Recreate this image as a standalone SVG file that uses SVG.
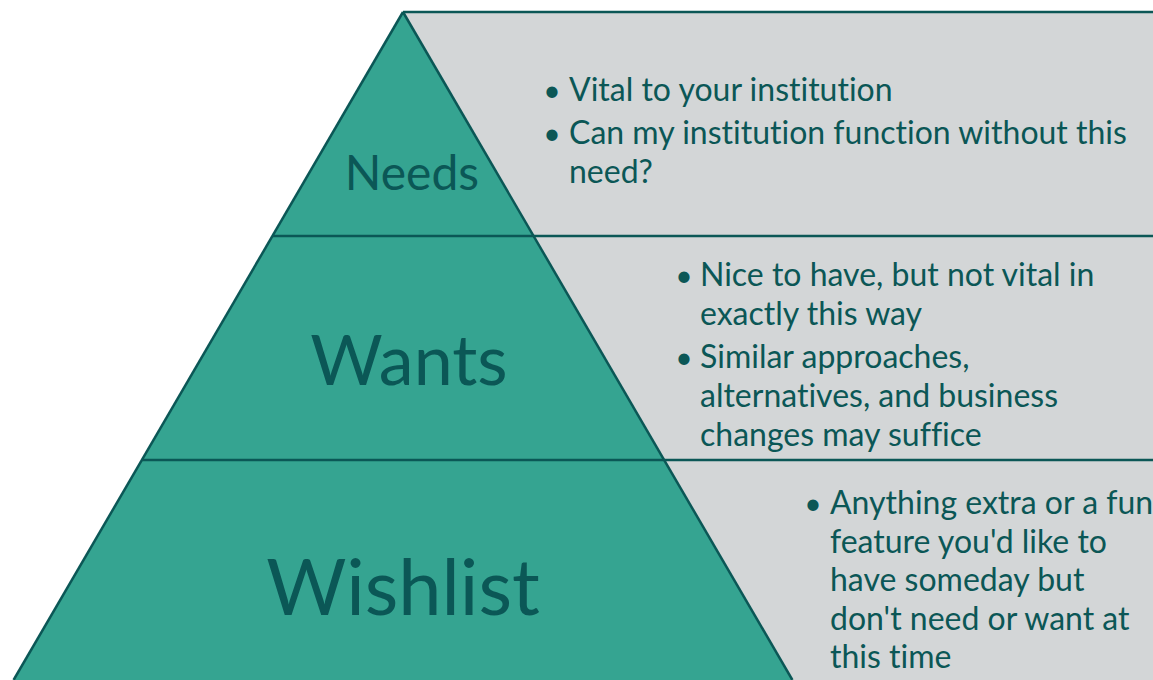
<svg xmlns="http://www.w3.org/2000/svg" width="1153" height="680" viewBox="0 0 1153 680">
  <style>
    .tier { fill: #35A491; }
    .panel { fill: #D3D6D7; }
    .edge { fill: none; stroke: #0B5756; stroke-width: 2.5; }
    text { font-family: Lato, "Open Sans", sans-serif; fill: #0B5756; font-variant-ligatures: none; font-feature-settings: "liga" 0, "clig" 0; }
    .label { text-anchor: middle; }
    .item { font-size: 32px; }
    .dot { font-size: 30px; text-anchor: middle; }
  </style>
  <rect width="1153" height="680" fill="#FFFFFF"/>

  <!-- grey description band behind the right side of the pyramid -->
  <polygon class="panel" points="403,12 1153,12 1153,680 792.4,680"/>

  <!-- top tier -->
  <g id="needs">
    <polygon class="tier" points="403,12 533.6,236 272.4,236"/>
    <text class="label" x="412" y="190" font-size="48">Needs</text>
    <text class="dot" x="552" y="101">•</text>
    <text class="item" x="569" y="101">Vital to your institution</text>
    <text class="dot" x="552" y="144">•</text>
    <text class="item" x="569" y="144">Can my institution function without this</text>
    <text class="item" x="569" y="183">need?</text>
  </g>

  <!-- middle tier -->
  <g id="wants">
    <polygon class="tier" points="272.4,236 533.6,236 664.2,460 141.8,460"/>
    <text class="label" x="409" y="385" font-size="70">Wants</text>
    <text class="dot" x="684" y="286">•</text>
    <text class="item" x="700" y="286">Nice to have, but not vital in</text>
    <text class="item" x="700" y="325">exactly this way</text>
    <text class="dot" x="684" y="368">•</text>
    <text class="item" x="700" y="368">Similar approaches,</text>
    <text class="item" x="700" y="407">alternatives, and business</text>
    <text class="item" x="700" y="446">changes may suffice</text>
  </g>

  <!-- bottom tier -->
  <g id="wishlist">
    <polygon class="tier" points="141.8,460 664.2,460 792.4,680 13.6,680"/>
    <text class="label" x="403" y="615" font-size="77.5">Wishlist</text>
    <text class="dot" x="813" y="514">•</text>
    <text class="item" x="830" y="514">Anything extra or a fun</text>
    <text class="item" x="830" y="553">feature you'd like to</text>
    <text class="item" x="830" y="591">have someday but</text>
    <text class="item" x="830" y="630">don't need or want at</text>
    <text class="item" x="830" y="668">this time</text>
  </g>

  <!-- outlines and tier dividers -->
  <g id="connectors">
    <line class="edge" x1="403" y1="12" x2="1153" y2="12"/>
    <line class="edge" x1="403" y1="12" x2="13.6" y2="680"/>
    <line class="edge" x1="403" y1="12" x2="792.4" y2="680"/>
    <line class="edge" x1="272.4" y1="236" x2="1153" y2="236"/>
    <line class="edge" x1="141.8" y1="460" x2="1153" y2="460"/>
  </g>
</svg>
